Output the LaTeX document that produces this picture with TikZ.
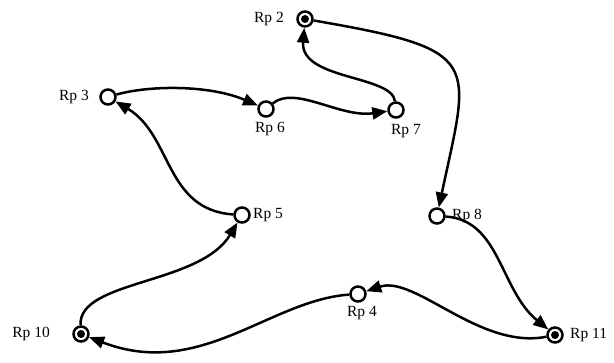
\documentclass[tikz,border=0pt]{standalone}
\usepackage{fontspec}
\setmainfont{Liberation Serif}
\usetikzlibrary{arrows.meta}
\begin{document}
\begin{tikzpicture}[x=1pt,y=-1pt,
 rp/.style={circle,draw,line width=2.5pt,minimum size=15pt,inner sep=0pt,fill=white},
 dot/.style={fill=black},
 lbl/.style={font=\fontsize{15.5}{18}\selectfont,inner sep=0pt},
 edge/.style={line width=2.5pt,-{Triangle[length=15pt,width=12pt]}},
]
\useasboundingbox (0,0) rectangle (614,363);
% nodes
\node[rp] (n2) at (305,19) {};
\node[rp] (n3) at (108,97) {};
\node[rp] (n6) at (266,109) {};
\node[rp] (n7) at (396,110) {};
\node[rp] (n5) at (242,215) {};
\node[rp] (n8) at (437,216) {};
\node[rp] (n4) at (358,294) {};
\node[rp] (n11) at (555,335) {};
\node[rp] (n10) at (81,334) {};
\fill[dot] (n2.center) circle (4pt);
\fill[dot] (n11.center) circle (4pt);
\fill[dot] (n10.center) circle (4pt);
% labels
\node[lbl,anchor=east] (l2) at (284,19) {Rp 2};
\node[lbl,anchor=east] (l3) at (89,97) {Rp 3};
\node[lbl] (l6) at (270,129) {Rp 6};
\node[lbl] (l7) at (406,131) {Rp 7};
\node[lbl,anchor=west] (l5) at (253,215) {Rp 5};
\node[lbl,anchor=west] (l8) at (452,216) {Rp 8};
\node[lbl] (l4) at (362,313) {Rp 4};
\node[lbl,anchor=west] (l11) at (570,335) {Rp 11};
\node[lbl,anchor=east] (l10) at (50,334) {Rp 10};
% edges
\draw[edge] (n2) .. controls (485,50) and (470,60) .. (n8);
\draw[edge] (n7) .. controls (392,75) and (300,80) .. (n2);
\draw[edge] (n6) .. controls (295,85) and (340,118) .. (n7);
\draw[edge] (n3) .. controls (150,85) and (210,85) .. (n6);
\draw[edge] (n5) .. controls (165,210) and (172,135) .. (n3);
\draw[edge] (n10) .. controls (78,280) and (200,285) .. (n5);
\draw[edge] (n8) .. controls (500,220) and (500,290) .. (n11);
\draw[edge] (n11) .. controls (480,350) and (415,275) .. (n4);
\draw[edge] (n4) .. controls (270,300) and (200,380) .. (n10);
\end{tikzpicture}
\end{document}
